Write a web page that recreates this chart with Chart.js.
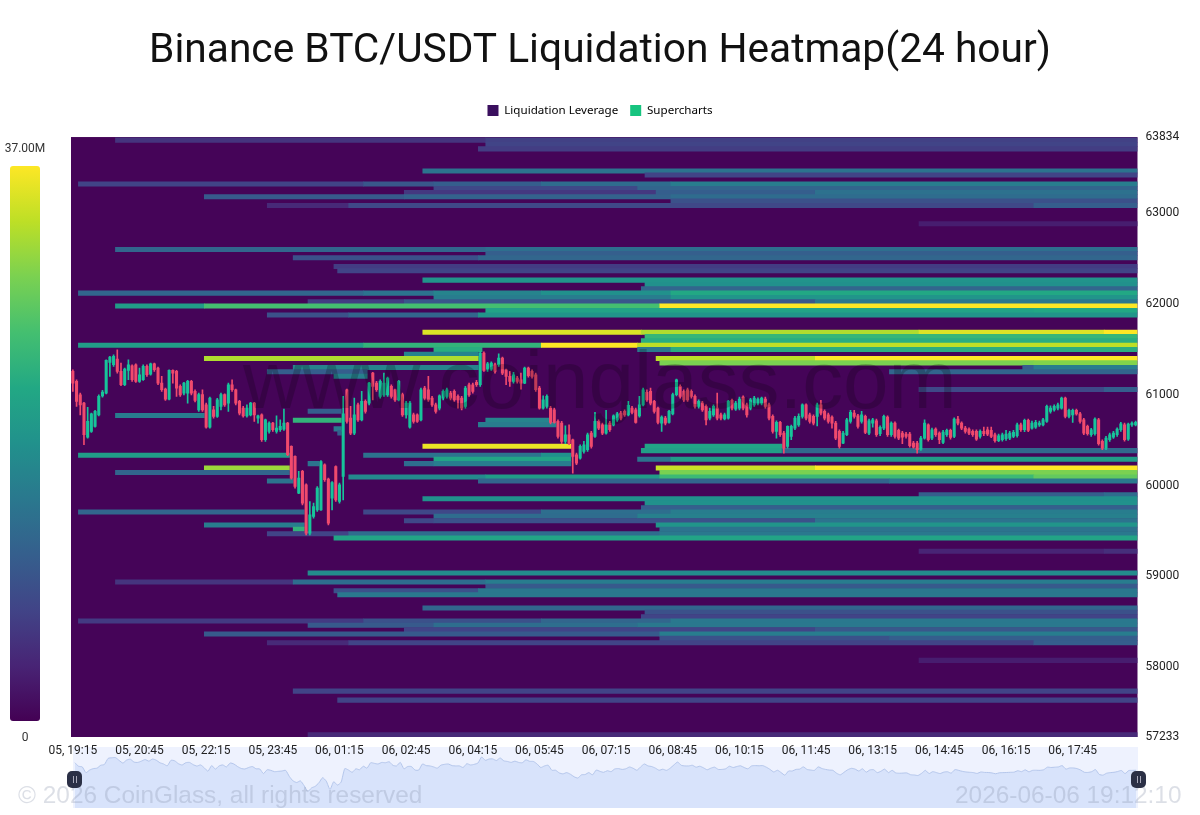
<!DOCTYPE html>
<html>
<head>
<meta charset="utf-8">
<title>Binance BTC/USDT Liquidation Heatmap</title>
<script src="https://cdn.jsdelivr.net/npm/chart.js@4"></script>
<style>
    html, body { margin: 0; padding: 0; background: #fff; }
    #wrap { position: relative; width: 1200px; height: 815px; overflow: hidden; font-family: Roboto, sans-serif; }
    #wrap canvas { position: absolute; }
    #navigator { left: 73px; top: 747px; z-index: 0; }
    #grafico { left: 0; top: 0; z-index: 1; }
    .over { position: absolute; z-index: 2; white-space: nowrap; }
    #colorbar { left: 10px; top: 166px; width: 30px; height: 555px; border-radius: 3px;
        background: linear-gradient(to bottom, #fde725 0%, #bddf26 10%, #7ad151 20%, #44bf70 30%, #22a884 40%, #21918c 50%, #2a788e 60%, #355f8d 70%, #414487 80%, #482475 90%, #440154 100%); }
    .barlabel { width: 50px; text-align: center; font-size: 12px; line-height: 14px; color: #333; }
    #marca { left: 243px; top: 333px; font-family: "Liberation Sans", sans-serif; font-size: 81.8px; line-height: 93px; color: rgba(0, 0, 0, 0.2); }
    .copy { font-family: "Liberation Sans", sans-serif; font-size: 24.4px; line-height: 30px; color: rgba(130, 140, 165, 0.28); top: 780px; }
    .handle { top: 771px; width: 15px; height: 17px; border-radius: 5px; background: #2b3046; }
    .handle i { position: absolute; top: 5px; width: 1px; height: 7px; background: #aab; }
</style>
</head>
<body>
<div id="wrap">
    <canvas id="navigator" width="1065" height="61"></canvas>
    <canvas id="grafico" width="1200" height="815"></canvas>
    <div class="over barlabel" style="left:0;top:141px">37.00M</div>
    <div class="over" id="colorbar"></div>
    <div class="over barlabel" style="left:0;top:730px">0</div>
    <div class="over" id="marca">www.coinglass.com</div>
    <div class="over copy" style="left:18px">© 2026 CoinGlass, all rights reserved</div>
    <div class="over copy" style="left:955px">2026-06-06 19:12:10</div>
    <div class="over handle" style="left:67px"><i style="left:6px"></i><i style="left:9px"></i></div>
    <div class="over handle" style="left:1131px"><i style="left:6px"></i><i style="left:9px"></i></div>
</div>
<script>
const titulo = 'Binance BTC/USDT Liquidation Heatmap(24 hour)';
const leyenda = ['Liquidation Leverage', 'Supercharts'];
const precioMin = 57233;
const precioMax = 63834;
const preciosEje = [63834, 63000, 62000, 61000, 60000, 59000, 58000, 57233];
const horasEje = ['05, 19:15', '05, 20:45', '05, 22:15', '05, 23:45', '06, 01:15', '06, 02:45', '06, 04:15', '06, 05:45',
    '06, 07:15', '06, 08:45', '06, 10:15', '06, 11:45', '06, 13:15', '06, 14:45', '06, 16:15', '06, 17:45'];
const horasPos = [0.5, 18.5, 36.5, 54.5, 72.5, 90.5, 108.5, 126.5, 144.5, 162.5, 180.5, 198.5, 216.5, 234.5, 252.5, 270.5];
const totalVelas = 288;

// heatmap: one entry per horizontal band, same order in the 4 lists (one line per price level)
const segPrice = [
    63800, 63800,
    63752,
    63704,
    63460,
    63416,
    63317, 63317, 63317, 63317, 63317,
    63268, 63268,
    63224, 63224, 63224,
    63177, 63177, 63177,
    63130,
    63081, 63081, 63081,
    62880,
    62597, 62597,
    62553,
    62505, 62505,
    62410,
    62362,
    62260,
    62212,
    62165,
    62117, 62117, 62117, 62117, 62117,
    62069, 62069,
    62021, 62021, 62021,
    61974, 61974, 61974,
    61925, 61925,
    61877, 61877, 61877,
    61687, 61687, 61687, 61687,
    61639,
    61592,
    61544, 61544, 61544, 61544,
    61496, 61496, 61496,
    61445,
    61397, 61397, 61397,
    61349, 61349,
    61298, 61298, 61298,
    61251, 61251,
    61203,
    61056, 61056,
    60818,
    60770,
    60719, 60719,
    60670,
    60623,
    60579,
    60432, 60432,
    60384, 60384,
    60333, 60333, 60333,
    60289, 60289, 60289,
    60241, 60241, 60241,
    60193, 60193, 60193,
    60144, 60144,
    60094, 60094, 60094, 60094,
    60050, 60050, 60050,
    59899, 59899,
    59855,
    59804,
    59756,
    59708, 59708, 59708, 59708,
    59661, 59661,
    59612, 59612, 59612,
    59565, 59565,
    59518, 59518,
    59470, 59470, 59470,
    59422,
    59276, 59276,
    59037,
    58938, 58938, 58938,
    58891,
    58842, 58842,
    58798,
    58652,
    58605,
    58556,
    58509, 58509, 58509, 58509,
    58462, 58462, 58462,
    58413, 58413,
    58366, 58366,
    58318, 58318,
    58270, 58270, 58270,
    58076,
    57738,
    57639,
    57257
];
const segFrom = [
    12, 112,
    112,
    110,
    95,
    155,
    2, 79, 98, 127, 162,
    98, 153,
    90, 158, 201,
    36, 90, 162,
    162,
    53, 75, 260,
    229,
    12, 112,
    112,
    60, 110,
    71,
    72,
    95,
    155,
    154,
    2, 79, 98, 127, 162,
    98, 162,
    64, 90, 201,
    12, 36, 159,
    112, 260,
    53, 75, 110,
    95, 154, 229, 279,
    155,
    154,
    2, 79, 127, 153,
    98, 153, 162,
    90,
    36, 158, 201,
    159, 260,
    60, 257, 260,
    53, 221,
    71,
    229, 279,
    64,
    12,
    60, 112,
    110,
    71,
    72,
    95, 155,
    154, 192,
    2, 79, 127,
    98, 153, 162,
    64, 90, 98,
    36, 158, 201,
    12, 159,
    75, 112, 159, 260,
    53, 110, 221,
    229, 279,
    95,
    155,
    154,
    2, 79, 127, 162,
    98, 153,
    90, 98, 201,
    36, 158,
    60, 159,
    53, 75, 159,
    71,
    229, 279,
    64,
    12, 60, 112,
    112,
    71, 110,
    72,
    95,
    155,
    154,
    2, 79, 127, 162,
    64, 98, 153,
    90, 201,
    36, 159,
    159, 221,
    53, 75, 260,
    229,
    60,
    72,
    64
];
const segTo = [
    112, 288,
    288,
    288,
    288,
    288,
    79, 98, 127, 162, 288,
    153, 288,
    158, 201, 288,
    90, 162, 288,
    288,
    75, 260, 288,
    288,
    112, 288,
    288,
    110, 288,
    288,
    288,
    288,
    288,
    288,
    79, 98, 127, 162, 288,
    162, 288,
    90, 201, 288,
    36, 159, 288,
    260, 288,
    75, 110, 288,
    154, 229, 279, 288,
    288,
    288,
    79, 127, 153, 288,
    111, 162, 288,
    110,
    110, 201, 288,
    260, 288,
    110, 260, 288,
    80, 288,
    80,
    279, 288,
    73,
    36,
    73, 129,
    131,
    73,
    73,
    135, 192,
    192, 288,
    59, 127, 135,
    135, 162, 288,
    67, 98, 135,
    59, 201, 288,
    59, 288,
    112, 159, 260, 288,
    60, 221, 288,
    279, 288,
    288,
    288,
    288,
    63, 127, 162, 288,
    153, 288,
    98, 201, 288,
    63, 288,
    63, 288,
    75, 159, 288,
    288,
    279, 288,
    288,
    60, 112, 288,
    288,
    110, 288,
    288,
    288,
    288,
    288,
    79, 127, 162, 288,
    98, 153, 288,
    201, 288,
    159, 288,
    221, 288,
    75, 260, 288,
    288,
    288,
    288,
    288
];
// liquidation value of each band, in millions (0 to 37.00M)
const segValue = [
    5.5, 7,
    7.4,
    6.6,
    14,
    7.4,
    7.4, 10, 11, 13, 15.5,
    8, 12,
    6, 11, 13.7,
    10.4, 11.5, 13,
    9.2,
    4.4, 8, 11,
    3,
    12.2, 13.5,
    11.1,
    9.2, 12.2,
    6.5,
    7.4,
    19,
    18.5,
    12.2,
    12.2, 14, 16.6, 18.5, 22.2,
    15.5, 19.2,
    6.6, 10, 14.8,
    20.3, 25.9, 37,
    21.5, 22.2,
    9.2, 12.2, 19.2,
    35, 32.5, 35, 37,
    24.4,
    23,
    20.5, 24, 37, 33.3,
    23, 14.8, 23,
    16.6,
    32.5, 33.3, 37,
    29.6, 30,
    16.6, 11, 15.5,
    11, 12,
    16,
    8.1, 11,
    11,
    15.5,
    24, 16.6,
    15.5,
    15,
    11,
    36, 21.5,
    20.7, 12.5,
    20.3, 14, 18.5,
    21.5, 14, 20.3,
    14, 13.3, 15.5,
    31.5, 34, 37,
    12, 29.6,
    17.4, 20.3, 25, 28,
    14, 12, 15,
    11, 13,
    18.5,
    18.5,
    11.1,
    12.2, 8, 13.3, 15.5,
    13, 16,
    8, 9.2, 14,
    15.5, 19.2,
    24, 14,
    7.4, 13, 14.8,
    21.5,
    3.7, 5,
    17.8,
    5.5, 13.3, 15.5,
    10.4,
    9.2, 14.8,
    14.8,
    12.2,
    9.2,
    7.4,
    6.3, 9.2, 12.2, 14.8,
    10.4, 13.3, 14.8,
    7.4, 10,
    10.4, 15.5,
    9.2, 11,
    4.4, 7.4, 11,
    3,
    7.4,
    7.4,
    4.4
];

// 5 minute candles, 288 of them
const candleOpen = [
    61255, 61145, 60998, 60907, 60532, 60595, 60650, 60778, 60987, 61017, 61354, 61329, 61391, 61255, 61109, 61266, 61318, 61329, 61145, 61164, 61310, 61226, 61340, 61292,
    61127, 61061, 60951, 61266, 61255, 61090, 61017, 61017, 61145, 61035, 60833, 61000, 60888, 60642, 60833, 60760, 60870, 61000, 60907, 61109, 61054, 60925, 60852, 60767,
    60778, 60907, 60742, 60778, 60503, 60595, 60687, 60595, 60613, 60620, 60687, 60430, 60320, 59916, 60155, 60008, 59475, 59659, 59732, 59732, 60228, 60070, 59861, 60209,
    59824, 60099, 61054, 60742, 60576, 60888, 60723, 60925, 60907, 61237, 61127, 60980, 60998, 60998, 61090, 61054, 60943, 61000, 60778, 60642, 60778, 60778, 60723, 61072,
    61054, 60962, 60888, 60852, 60962, 60980, 61017, 61035, 60980, 60962, 60870, 61109, 61109, 61134, 61109, 61457, 61281, 61281, 61329, 61329, 61402, 61274, 61200, 61145,
    61182, 61164, 61127, 61292, 61255, 61219, 61072, 60852, 60870, 60852, 60833, 60705, 60687, 60485, 60558, 60503, 60338, 60301, 60375, 60393, 60576, 60540, 60705, 60668,
    60576, 60687, 60668, 60723, 60797, 60815, 60778, 60852, 60833, 60767, 60888, 61024, 61035, 60925, 60852, 60687, 60742, 60694, 60789, 61000, 61090, 61035, 61054, 61035,
    60980, 60870, 60907, 60870, 60742, 60778, 60852, 60778, 60734, 60742, 60936, 60841, 60852, 60973, 60888, 60852, 60888, 60907, 60907, 60951, 60888, 60760, 60595, 60694,
    60576, 60430, 60540, 60631, 60668, 60760, 60888, 60778, 60760, 60760, 60888, 60815, 60778, 60753, 60687, 60595, 60466, 60558, 60705, 60797, 60767, 60705, 60760, 60576,
    60687, 60712, 60569, 60631, 60753, 60558, 60687, 60606, 60576, 60565, 60565, 60466, 60466, 60400, 60521, 60668, 60521, 60620, 60576, 60474, 60558, 60606, 60540, 60731,
    60687, 60631, 60620, 60595, 60595, 60540, 60595, 60613, 60606, 60558, 60492, 60503, 60514, 60521, 60540, 60547, 60668, 60613, 60716, 60631, 60642, 60668, 60668, 60705,
    60815, 60833, 60852, 60852, 60962, 60760, 60778, 60826, 60789, 60723, 60650, 60558, 60569, 60723, 60485, 60411, 60503, 60532, 60558, 60613, 60668, 60510, 60668, 60668
];
const candleClose = [
    61127, 60925, 60888, 60558, 60705, 60789, 60815, 60980, 61028, 61376, 61413, 61420, 61255, 61109, 61281, 61329, 61164, 61145, 61219, 61310, 61219, 61340, 61274, 61127,
    61054, 60951, 61266, 61237, 61072, 60998, 61127, 61145, 61017, 60936, 61000, 60833, 60642, 60962, 60760, 60943, 61000, 60888, 61109, 61054, 60907, 60797, 60767, 60852,
    60907, 60778, 60767, 60503, 60723, 60687, 60613, 60631, 60650, 60687, 60338, 60081, 59989, 60081, 59806, 59475, 59677, 59769, 59971, 60264, 60063, 59586, 60033, 59842,
    60008, 60789, 60705, 60576, 60778, 60723, 60925, 60815, 61127, 61090, 61054, 61145, 61127, 61182, 60980, 60943, 61145, 60778, 60907, 60907, 60705, 60705, 61054, 60962,
    60943, 60888, 60815, 60987, 61035, 61054, 60962, 60943, 60943, 60852, 61072, 60998, 61035, 61109, 61457, 61266, 61340, 61347, 61255, 61402, 61237, 61200, 61145, 61219,
    61145, 61127, 61292, 61208, 61200, 61054, 60852, 60943, 60980, 60694, 60694, 60540, 60485, 60558, 60466, 60320, 60246, 60430, 60448, 60558, 60430, 60705, 60631, 60576,
    60668, 60613, 60767, 60789, 60742, 60778, 60881, 60804, 60694, 60888, 61054, 60943, 60907, 60815, 60694, 60753, 60687, 60815, 61000, 61164, 60980, 60943, 60943, 60980,
    60870, 60925, 60833, 60723, 60815, 60870, 60742, 60742, 60778, 60925, 60852, 60907, 60951, 60852, 60778, 60943, 60962, 60951, 60962, 60870, 60742, 60595, 60694, 60558,
    60411, 60650, 60650, 60742, 60760, 60888, 60742, 60705, 60687, 60888, 60797, 60742, 60705, 60687, 60521, 60430, 60576, 60723, 60804, 60760, 60650, 60778, 60584, 60712,
    60723, 60558, 60639, 60760, 60558, 60687, 60540, 60521, 60532, 60540, 60437, 60422, 60393, 60521, 60687, 60503, 60613, 60558, 60503, 60587, 60606, 60529, 60731, 60687,
    60631, 60595, 60576, 60558, 60510, 60595, 60569, 60565, 60540, 60492, 60547, 60558, 60565, 60576, 60584, 60668, 60613, 60716, 60606, 60687, 60694, 60687, 60723, 60870,
    60852, 60870, 60888, 60962, 60760, 60826, 60826, 60789, 60705, 60576, 60569, 60613, 60731, 60459, 60411, 60521, 60558, 60576, 60620, 60679, 60503, 60675, 60687, 60694
];
const candleHigh = [
    61274, 61164, 61017, 60914, 60859, 60797, 60826, 60998, 61046, 61384, 61420, 61439, 61494, 61347, 61292, 61384, 61329, 61340, 61292, 61329, 61329, 61347, 61347, 61303,
    61200, 61072, 61274, 61274, 61266, 61109, 61134, 61156, 61156, 61054, 61017, 61054, 60907, 60973, 60870, 60958, 61017, 61010, 61127, 61164, 61061, 60936, 60870, 60888,
    60914, 60914, 60775, 60789, 60731, 60701, 60694, 60767, 60723, 60840, 60694, 60437, 60327, 60155, 60166, 60019, 59824, 59806, 59989, 60275, 60239, 60081, 60044, 60217,
    60026, 60980, 61061, 60870, 60962, 60907, 61035, 60943, 61134, 61244, 61145, 61164, 61237, 61193, 61109, 61061, 61156, 61017, 60925, 60925, 60797, 60789, 61072, 61090,
    61200, 60980, 60907, 60998, 61054, 61072, 61035, 61054, 60998, 60980, 61090, 61127, 61127, 61156, 61472, 61472, 61354, 61362, 61347, 61450, 61413, 61281, 61255, 61244,
    61200, 61237, 61303, 61303, 61274, 61237, 61090, 60987, 60998, 60870, 60852, 60723, 60705, 60657, 60668, 60510, 60356, 60448, 60485, 60576, 60595, 60804, 60723, 60687,
    60826, 60705, 60778, 60804, 60815, 60833, 60925, 60870, 60852, 60980, 61072, 61054, 61072, 60936, 60863, 60767, 60760, 60826, 61017, 61171, 61109, 61054, 61072, 61054,
    60998, 60943, 60925, 60888, 60852, 60888, 61017, 60797, 60797, 60936, 60951, 60925, 60973, 60987, 60907, 60958, 60980, 60965, 60973, 60973, 60907, 60778, 60712, 60705,
    60595, 60657, 60664, 60760, 60789, 60900, 60900, 60797, 60778, 60907, 60936, 60833, 60797, 60767, 60705, 60613, 60595, 60738, 60826, 60826, 60782, 60815, 60775, 60731,
    60738, 60731, 60657, 60775, 60767, 60701, 60701, 60620, 60595, 60584, 60584, 60485, 60485, 60540, 60723, 60679, 60631, 60635, 60591, 60606, 60620, 60620, 60745, 60760,
    60701, 60650, 60635, 60613, 60613, 60613, 60642, 60642, 60642, 60576, 60565, 60576, 60606, 60595, 60606, 60687, 60687, 60731, 60731, 60709, 60716, 60709, 60738, 60885,
    60878, 60888, 60907, 60973, 60973, 60841, 60841, 60841, 60804, 60738, 60664, 60628, 60745, 60738, 60503, 60540, 60576, 60595, 60635, 60694, 60687, 60687, 60701, 60709
];
const candleLow = [
    61035, 60870, 60778, 60448, 60521, 60584, 60642, 60767, 60973, 61009, 61200, 61310, 61237, 61098, 61098, 61164, 61145, 61134, 61134, 61156, 61200, 61215, 61255, 61109,
    61035, 60936, 60943, 61127, 60980, 60980, 60998, 60907, 60998, 60921, 60815, 60815, 60631, 60631, 60742, 60749, 60833, 60870, 60815, 61035, 60888, 60778, 60753, 60753,
    60767, 60705, 60687, 60485, 60485, 60576, 60595, 60576, 60595, 60606, 60327, 60070, 59971, 59909, 59787, 59457, 59457, 59640, 59714, 59725, 60044, 59567, 59732, 59824,
    59806, 59842, 60687, 60558, 60558, 60705, 60712, 60797, 60888, 60943, 61035, 60962, 60980, 60980, 60962, 60925, 60932, 60760, 60742, 60631, 60687, 60694, 60712, 60943,
    60925, 60870, 60797, 60833, 60943, 60962, 60943, 60925, 60852, 60833, 60852, 60980, 61017, 61090, 61090, 61255, 61255, 61266, 61237, 61310, 61219, 61109, 61090, 61127,
    61127, 61061, 61120, 61193, 61182, 61035, 60841, 60841, 60852, 60679, 60687, 60521, 60459, 60459, 60448, 60136, 60228, 60290, 60356, 60375, 60411, 60529, 60613, 60558,
    60565, 60595, 60657, 60705, 60723, 60760, 60767, 60789, 60687, 60753, 60877, 60925, 60888, 60797, 60679, 60595, 60668, 60687, 60778, 60987, 60962, 60925, 60925, 60962,
    60852, 60852, 60815, 60668, 60723, 60760, 60723, 60723, 60723, 60731, 60833, 60826, 60833, 60833, 60753, 60833, 60870, 60888, 60888, 60852, 60723, 60576, 60521, 60540,
    60356, 60411, 60503, 60613, 60650, 60742, 60723, 60687, 60668, 60657, 60778, 60723, 60687, 60631, 60503, 60411, 60459, 60547, 60687, 60742, 60631, 60687, 60569, 60558,
    60642, 60540, 60547, 60613, 60540, 60540, 60521, 60503, 60459, 60521, 60422, 60411, 60356, 60386, 60510, 60488, 60503, 60540, 60459, 60459, 60540, 60510, 60525, 60668,
    60613, 60576, 60558, 60540, 60496, 60521, 60547, 60547, 60525, 60477, 60481, 60488, 60496, 60503, 60525, 60532, 60595, 60591, 60591, 60620, 60628, 60650, 60657, 60694,
    60797, 60819, 60833, 60841, 60745, 60745, 60694, 60775, 60687, 60558, 60554, 60540, 60554, 60444, 60393, 60393, 60485, 60518, 60540, 60595, 60488, 60496, 60650, 60657
];

const colorFondo = '#450458';
const colorSube = '#17c49a';
const colorBaja = '#f04a6d';
// viridis colour stops, the same ones as the colour bar on the left
const viridis = [[68, 1, 84], [72, 36, 117], [65, 68, 135], [53, 95, 141], [42, 120, 142], [33, 145, 140], [34, 168, 132], [68, 191, 112], [122, 209, 81], [189, 223, 38], [253, 231, 37]];

function colorDeValor(valor) {
    const t = Math.min(valor / 37, 1) * (viridis.length - 1);
    const a = Math.floor(t);
    const b = Math.min(a + 1, viridis.length - 1);
    const f = t - a;
    const c = [0, 1, 2].map(k => Math.round(viridis[a][k] + (viridis[b][k] - viridis[a][k]) * f));
    return 'rgb(' + c.join(',') + ')';
}

const centrosVela = candleOpen.map((_, i) => i + 0.5);

// Fondo del heatmap
const fondoPlugin = {
    id: 'fondo',
    beforeDatasetsDraw(chart) {
        const a = chart.chartArea;
        chart.ctx.fillStyle = colorFondo;
        chart.ctx.fillRect(a.left, a.top, a.width, a.height);
    }
};
// the legend needs more room under it than the chart gives by default
const leyendaPlugin = {
    id: 'alturaLeyenda',
    beforeInit(chart) {
        const fit = chart.legend.fit;
        chart.legend.fit = function () {
            fit.call(this);
            this.height += 10.8;
        };
    }
};

new Chart(document.getElementById('grafico').getContext('2d'), {
    type: 'bar',
    plugins: [fondoPlugin, leyendaPlugin],
    data: {
        datasets: [
            {
                label: 'Heatmap',
                indexAxis: 'y',
                grouped: false,
                order: 3,
                barThickness: 4.4,
                data: segPrice.map((p, i) => ({ x: [segFrom[i], segTo[i]], y: p })),
                backgroundColor: ctx => colorDeValor(segValue[ctx.dataIndex])
            },
            {
                label: 'Mechas',
                grouped: false,
                order: 2,
                barThickness: 1,
                data: centrosVela.map((x, i) => ({ x: x, y: [candleLow[i], candleHigh[i]] })),
                backgroundColor: ctx => candleClose[ctx.dataIndex] >= candleOpen[ctx.dataIndex] ? colorSube : colorBaja
            },
            {
                label: 'Velas',
                grouped: false,
                order: 1,
                barThickness: 2.4,
                data: centrosVela.map((x, i) => ({ x: x, y: [candleOpen[i], candleClose[i]] })),
                backgroundColor: ctx => candleClose[ctx.dataIndex] >= candleOpen[ctx.dataIndex] ? colorSube : colorBaja
            }
        ]
    },
    options: {
        responsive: false,
        animation: false,
        layout: { padding: 0 },
        plugins: {
            tooltip: { enabled: false },
            title: {
                display: true,
                text: titulo,
                color: '#111',
                font: { family: 'Roboto', size: 40.7, weight: '400', lineHeight: 1.2 },
                padding: { top: 27.4, bottom: 16.4 }
            },
            legend: {
                display: true,
                position: 'top',
                labels: {
                    boxWidth: 11,
                    boxHeight: 11,
                    padding: 12,
                    color: '#555',
                    font: { family: 'Noto Sans', size: 11.6 },
                    generateLabels: () => [
                        { text: leyenda[0], fillStyle: '#3a0f5e', strokeStyle: '#3a0f5e', lineWidth: 0, datasetIndex: 0 },
                        { text: leyenda[1], fillStyle: '#17c47f', strokeStyle: '#17c47f', lineWidth: 0, datasetIndex: 1 }
                    ]
                }
            }
        },
        scales: {
            x: {
                type: 'linear',
                min: 0,
                max: totalVelas,
                offset: false,
                grid: { display: false, drawTicks: false, offset: false },
                border: { display: false },
                afterFit: s => { s.height = 78; },
                afterBuildTicks: s => { s.ticks = horasPos.map(v => ({ value: v })); },
                ticks: {
                    autoSkip: false,
                    maxRotation: 0,
                    padding: 7,
                    color: '#222',
                    font: { family: 'Roboto', size: 12 },
                    callback: (v, i) => horasEje[i]
                }
            },
            y: {
                type: 'linear',
                position: 'right',
                min: precioMin,
                max: precioMax,
                offset: false,
                grid: { display: false, drawTicks: false, offset: false },
                border: { display: false },
                afterFit: s => { s.width = 62.5; },
                afterBuildTicks: s => { s.ticks = preciosEje.map(v => ({ value: v })); },
                ticks: {
                    padding: 8,
                    color: '#222',
                    font: { family: 'Roboto', size: 12 },
                    callback: v => String(v)
                }
            },
            // empty axis on the left, only keeps the room for the colour bar
            margenIzq: {
                type: 'linear',
                axis: 'y',
                position: 'left',
                min: 0,
                max: 1,
                grid: { display: false, drawTicks: false },
                border: { display: false },
                ticks: { display: false },
                afterFit: s => { s.width = 71; }
            }
        }
    }
});

// Barra de navegación de abajo
new Chart(document.getElementById('navigator').getContext('2d'), {
    type: 'line',
    data: {
        datasets: [{
            data: centrosVela.map((x, i) => ({ x: x, y: candleClose[i] })),
            borderColor: '#b5c7ec',
            borderWidth: 1,
            backgroundColor: '#d8e3fb',
            fill: 'start',
            pointRadius: 0,
            tension: 0.2
        }]
    },
    options: {
        responsive: false,
        animation: false,
        layout: { padding: 0 },
        plugins: {
            legend: { display: false },
            tooltip: { enabled: false },
            fondoNav: { color: '#eef2fe' }
        },
        scales: {
            x: { type: 'linear', display: false, min: 0, max: totalVelas },
            y: { type: 'linear', display: false, min: 58520, max: 62033 }
        }
    },
    plugins: [{
        id: 'fondoNav',
        beforeDatasetsDraw(chart, args, opts) {
            chart.ctx.fillStyle = opts.color;
            chart.ctx.fillRect(0, 0, chart.width, chart.height);
        }
    }]
});
</script>
</body>
</html>
